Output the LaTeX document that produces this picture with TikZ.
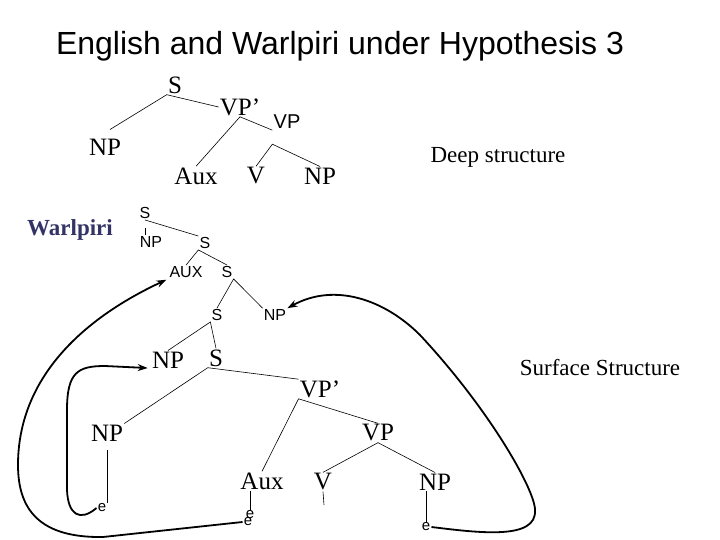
\documentclass[tikz,border=0pt]{standalone}
\usepackage{fontspec}
\setmainfont{Liberation Serif}
\setsansfont{Liberation Sans}
\usetikzlibrary{arrows.meta}
\definecolor{warlpiriblue}{HTML}{333366}

\begin{document}
\begin{tikzpicture}[
    x=1pt, y=-1pt,
    >={Stealth[length=10pt,width=7pt]},
    line width=0.6pt,
    synt/.style={font=\fontsize{25}{30}\selectfont, inner sep=1pt},
    wsynt/.style={font=\sffamily\fontsize{16}{19}\selectfont, inner sep=1pt},
    trace/.style={font=\sffamily\fontsize{15}{18}\selectfont, inner sep=1pt},
    caption/.style={font=\fontsize{23}{27}\selectfont},
    move/.style={->, line width=1.8pt}
]
    \useasboundingbox (0,0) rectangle (720,540);

    % Title
    \node (title) at (340,46) {\sffamily\fontsize{32}{38}\selectfont English and Warlpiri under Hypothesis 3};

    % 1. Deep structure (English)
    \node[synt] (dS) at (175,85) {S};
    \node[synt] (dVPb) at (240,107) {VP’};
    \node[wsynt, font=\sffamily\fontsize{20}{24}\selectfont] (dVP) at (287,122) {VP};
    \node[synt] (dNP) at (105,147) {NP};
    \node[synt] (dAux) at (196,176) {Aux};
    \node[synt] (dV) at (256,176) {V};
    \node[synt] (dNPo) at (320,176) {NP};
    \node[caption] (deep) at (498,157) {Deep structure};

    \draw ([xshift=5pt,yshift=8pt]dNP.north) -- (dS.south west) -- (dVPb.west);
    \draw (dAux.north) -- (dVPb.south) -- (dVP.south west);
    \draw (dV.north) -- ([yshift=-14pt]dVP.south west) -- (dNPo.north);

    % 2. Warlpiri tree
    \node[font=\bfseries\fontsize{23}{27}\selectfont, text=warlpiriblue] (wlp) at (70,230) {Warlpiri};
    \node[wsynt] (wS) at (145,213) {S};
    \node[wsynt] (wNP) at (151,242) {NP};
    \node[wsynt] (wS2) at (205,243) {S};
    \node[wsynt] (wAux) at (186,272) {AUX};
    \node[wsynt] (wS3) at (227,272) {S};
    \node[wsynt] (wS4) at (217,315) {S};
    \node[wsynt] (wNPo) at (275,315) {NP};

    \draw[shorten <=8pt] (wS.south) -- (wS.south |- wNP.north);
    \draw (wS.south) -- (wS2.north west);
    \draw (wAux.north) -- (wS2.south west) -- (wS3.north);
    \draw (wS4.north) -- (wS3.south east) -- (wNPo.north west);

    % 3. Surface structure
    \node[synt] (sNP) at (168,360) {NP};
    \node[synt] (sS) at (216,358) {S};
    \node[synt] (sVPb) at (320,389) {VP’};
    \node[synt] (sNPs) at (107,433) {NP};
    \node[synt] (sVP) at (378,433) {VP};
    \node[synt] (sAux) at (262,481) {Aux};
    \node[synt] (sV) at (323,482) {V};
    \node[synt] (sNPo) at (435,482) {NP};
    \node[caption] (surface) at (600,368) {Surface Structure};

    \draw (sNP.north) -- (wS4.south west) -- (sS.north);
    \draw (sNPs.north east) -- (sS.south west) -- (sVPb.north west);
    \draw (sAux.north) -- (sVPb.south west) -- (sVP.north);
    \draw (sV.north) -- (sVP.south) -- (sNPo.north);

    % traces
    \node[trace] (e1) at (102,508) {e};
    \node[trace] (eA) at (250,515) {e};
    \node[trace] (eB) at (248,522) {e};
    \node[trace] (e3) at (426,527) {e};
    \coordinate (vtick) at (324,505);

    \draw[shorten <=8pt] (sNPs.south) -- (sNPs.south |- e1.north);
    \draw (eA.north |- sAux.south) -- (eA.north);
    \draw (sV.south) -- (vtick);
    \draw (e3.north |- sNPo.south) -- (e3.north);

    % Movement arrows
    \draw[move, shorten >=3pt] (e1.west) .. controls (80,522) and (68,515) .. (67,490)
        -- (67,410) .. controls (67,372) and (78,366) .. (105,366) -- (sNP.base west);
    \draw[move, shorten >=2pt] (eB.west) -- (103,537) .. controls (40,538) and (18,510) .. (18,465)
        .. controls (18,380) and (80,320) .. (wAux.south west);
    \draw[move] (e3.east) .. controls (480,533) and (537,540) .. (535,510)
        .. controls (535,490) and (490,410) .. (420,335)
        .. controls (385,300) and (335,282) .. (wNPo.north east);

\end{tikzpicture}
\end{document}
